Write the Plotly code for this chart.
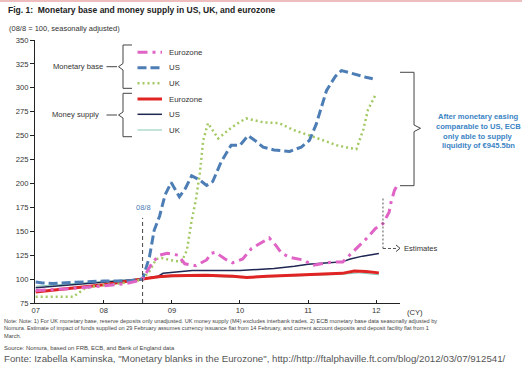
import plotly.graph_objects as go

# ---------------- data (decimal years, index 08/8 = 100) ----------------
us_base_x = [2007.00, 2007.10, 2007.25, 2007.40, 2007.60, 2007.80, 2008.00, 2008.20, 2008.40, 2008.57,
             2008.67, 2008.74, 2008.82, 2008.90, 2008.99, 2009.11, 2009.20, 2009.29, 2009.40, 2009.51,
             2009.60, 2009.72, 2009.87, 2010.00, 2010.12, 2010.22, 2010.34, 2010.50, 2010.73, 2010.90,
             2011.02, 2011.12, 2011.27, 2011.40, 2011.49, 2011.60, 2011.73, 2011.85, 2011.95]
us_base_y = [97, 96, 95.5, 96, 97, 97.5, 98, 98, 98.5, 100,
             123, 151, 166, 188, 201, 186, 195, 208, 204, 198,
             202, 222, 240, 240, 250, 245, 238, 235, 233.5, 238,
             245, 262, 297, 312, 318, 316, 313, 311, 309.5]

uk_base_x = [2007.00, 2007.30, 2007.55, 2007.62, 2007.72, 2007.90, 2008.20, 2008.45, 2008.57, 2008.67,
             2008.77, 2008.85, 2008.97, 2009.14, 2009.22, 2009.29, 2009.35, 2009.41, 2009.46, 2009.53,
             2009.68, 2009.85, 2009.97, 2010.09, 2010.34, 2010.58, 2010.78, 2011.07, 2011.42, 2011.61,
             2011.71, 2011.81, 2011.88, 2012.00]
uk_base_y = [81.5, 81.5, 81.5, 85, 90, 93, 95, 97.5, 100, 108,
             121, 122, 120, 118, 130, 161, 182, 210, 245, 263,
             247, 257, 263, 268, 264, 263, 256, 249, 240, 237,
             236, 256, 277, 294]

ez_base_x = [2007.00, 2007.50, 2008.00, 2008.30, 2008.50, 2008.57, 2008.72, 2008.82, 2008.93, 2009.09,
             2009.19, 2009.35, 2009.51, 2009.58, 2009.64, 2009.78, 2009.89, 2010.04, 2010.17, 2010.29,
             2010.43, 2010.53, 2010.61, 2010.75, 2010.93, 2011.07, 2011.22, 2011.37, 2011.51, 2011.65,
             2011.78, 2011.88, 2011.99, 2012.10, 2012.19, 2012.22, 2012.27, 2012.31]
ez_base_y = [88, 90, 93, 95, 98, 100, 118, 125, 127, 125,
             116, 114, 120, 127, 128, 121, 117, 121, 132, 137,
             143, 135, 127, 122.5, 120, 114.5, 116, 118, 118, 128,
             137, 144, 153, 158, 170, 181, 193, 198]

ez_m_x = [2007.00, 2007.50, 2008.00, 2008.57, 2008.80, 2009.00, 2009.50, 2009.90, 2010.10, 2010.40,
          2010.80, 2011.20, 2011.50, 2011.68, 2011.85, 2012.04]
ez_m_y = [86.5, 90, 94, 100, 102.5, 103.5, 104, 103, 101.6, 103,
          104, 105, 106, 108.5, 108, 106.5]

us_m_x = [2007.00, 2007.50, 2008.00, 2008.57, 2008.70, 2008.80, 2008.87, 2009.00, 2009.30, 2010.00,
          2010.20, 2010.50, 2010.80, 2011.00, 2011.30, 2011.50, 2011.62, 2011.80, 2012.04]
us_m_y = [91, 94, 96.5, 100, 102, 103, 106, 107, 109, 109,
          109.5, 111, 113.5, 115.5, 117, 118, 121, 124, 126.7]

uk_m_x = [2007.00, 2007.50, 2008.00, 2008.57, 2009.00, 2009.50, 2010.00, 2010.50, 2011.00, 2011.50,
          2011.75, 2012.04]
uk_m_y = [92.5, 95, 97, 100, 102.5, 103, 101.5, 102.5, 103.5, 105,
          106.5, 104.5]

year_ticks = [2007, 2008, 2009, 2010, 2011, 2012]
year_labels = ["07", "08", "09", "10", "11", "12"]
y_ticks = [75, 100, 125, 150, 175, 200, 225, 250, 275, 300, 325, 350]
base_date = 2008.57
estimate_date = 2012.10

legend_names = ["Eurozone", "US", "UK", "Eurozone", "US", "UK"]

# ---------------- styles ----------------
FONT = "Liberation Sans, Arial, sans-serif"
C_PINK = "#e064c6"
C_BLUE = "#4d7db5"
C_GREEN = "#a3c964"
C_RED = "#e02424"
C_NAVY = "#1e2652"
C_TEAL = "#86c9b3"
D_PINK = "10px,5px,3px,5px"
D_BLUE = "9px,4px"
D_GREEN = "2px,3px"

styles = [
    dict(color=C_PINK, width=3, dash=D_PINK),
    dict(color=C_BLUE, width=3, dash=D_BLUE),
    dict(color=C_GREEN, width=2.5, dash=D_GREEN),
    dict(color=C_RED, width=3, dash="solid"),
    dict(color=C_NAVY, width=1.5, dash="solid"),
    dict(color=C_TEAL, width=1, dash="solid"),
]

fig = go.Figure()
series = [
    (uk_m_x, uk_m_y, styles[5]),
    (us_m_x, us_m_y, styles[4]),
    (ez_m_x, ez_m_y, styles[3]),
    (uk_base_x, uk_base_y, styles[2]),
    (us_base_x, us_base_y, styles[1]),
    (ez_base_x, ez_base_y, styles[0]),
]
for xs, ys, st in series:
    fig.add_trace(go.Scatter(x=xs, y=ys, mode="lines", line=st,
                             showlegend=False, hoverinfo="skip"))

# plot-area geometry in pixels
L, T, W, H = 35, 40, 365, 263


def px(x):
    return (x - L) / W


def py(y):
    return (T + H - y) / H


annotations = []


def ann(x, y, text, size=7.5, color="#333333", xanchor="left", bold=False):
    if bold:
        text = "<b>" + text + "</b>"
    annotations.append(dict(x=px(x), y=py(y), xref="paper", yref="paper", text=text,
                            showarrow=False, xanchor=xanchor, yanchor="middle",
                            font=dict(family=FONT, size=size, color=color)))


shapes = []


def path_shape(points, color="#444444", width=1, dash="solid"):
    d = "M " + " L ".join("%.4f,%.4f" % (px(a), py(b)) for a, b in points)
    shapes.append(dict(type="path", path=d, xref="paper", yref="paper",
                       line=dict(color=color, width=width, dash=dash)))


# title / subtitle
ann(6, 9.5, "Fig. 1:  Monetary base and money supply in US, UK, and eurozone", size=8.5, color="#222222", bold=True)
ann(7, 28, "(08/8 = 100, seasonally adjusted)", size=7.5, color="#333333")
shapes.append(dict(type="line", xref="paper", yref="paper", x0=px(0), x1=px(522), y0=py(1), y1=py(1),
                   line=dict(color="#e8a8a8", width=1.5)))

# legend
leg_y = [52.3, 67.7, 83.3, 99, 114.3, 130]
for name, st, yy in zip(legend_names, styles, leg_y):
    shapes.append(dict(type="line", xref="paper", yref="paper", x0=px(137.5), x1=px(162),
                       y0=py(yy), y1=py(yy),
                       line=dict(color=st["color"], width=st["width"], dash=st["dash"])))
    ann(167, yy, name, size=7.8)

# group brackets
path_shape([(132, 45), (123, 45), (123, 63.5), (118.5, 66.7), (123, 70), (123, 88.3), (132, 88.3)])
path_shape([(132, 93.3), (123, 93.3), (123, 112), (118.5, 115), (123, 118), (123, 136.7), (132, 136.7)])
path_shape([(106.5, 66.7), (117, 66.7)])
path_shape([(106.5, 115), (117, 115)])
ann(105, 66.7, "Monetary base", size=7.6, xanchor="right")
ann(101, 114.5, "Money supply", size=7.6, xanchor="right")

# right bracket and ECB comment
path_shape([(400, 72.3), (414, 72.3), (414, 125), (420.5, 128.3), (414, 131.6), (414, 185.7), (400, 185.7)])
for txt, yy in zip(["After monetary easing", "comparable to US, ECB", "only able to supply",
                    "liquidity of €945.5bn"], [116.7, 126.5, 136.2, 145.8]):
    ann(478, yy, txt, size=7.6, color="#3b84c4", xanchor="center", bold=True)

# 08/8 marker
shapes.append(dict(type="line", xref="x", yref="y", x0=base_date, x1=base_date, y0=75, y1=164,
                   line=dict(color="#444444", width=1, dash="4px,3px")))
ann(143, 207.5, "08/8", size=7.5, color="#4d7db5", xanchor="center")

# estimates marker
shapes.append(dict(type="line", xref="x", yref="y", x0=estimate_date, x1=estimate_date, y0=132, y1=185,
                   line=dict(color="#555555", width=1, dash="2px,2px")))
shapes.append(dict(type="line", xref="x", yref="y", x0=estimate_date, x1=2012.32, y0=132, y1=132,
                   line=dict(color="#555555", width=1, dash="3px,2px")))
path_shape([(396, 245), (400, 248.3), (396, 251.6)], color="#444444")
ann(402, 248.3, "Estimates", size=7.6)

# (CY)
ann(415, 312, "(CY)", size=7.6, xanchor="center")

# notes
ann(2, 321, "Note: Note: 1) For UK monetary base, reserve deposits only unadjusted. UK money supply (M4) excludes "
            "interbank trades. 2) ECB monetary base data seasonally adjusted by", size=5.6, color="#444444")
ann(2, 328.5, "Nomura. Estimate of impact of funds supplied on 29 February assumes currency issuance flat from "
              "14 February, and current account deposits and deposit facility flat from 1", size=5.6, color="#444444")
ann(2, 336, "March.", size=5.6, color="#444444")
ann(2, 347.5, "Source: Nomura, based on FRB, ECB, and Bank of England data", size=5.9, color="#444444")
ann(2, 358.5, "Fonte: Izabella Kaminska, \"Monetary blanks in the Eurozone\", "
              "http://http://ftalphaville.ft.com/blog/2012/03/07/912541/", size=9.7, color="#555555")

fig.update_layout(
    width=522, height=365,
    margin=dict(l=L, r=522 - L - W, t=T, b=365 - T - H, pad=0),
    paper_bgcolor="white", plot_bgcolor="white",
    font=dict(family=FONT, size=7.5, color="#333333"),
    xaxis=dict(range=[2006.99, 2012.35], tickvals=year_ticks, ticktext=year_labels,
               showline=True, linecolor="#222222", linewidth=1, ticks="inside", ticklen=3,
               tickcolor="#222222", showgrid=False, zeroline=False,
               tickfont=dict(family=FONT, size=7.6, color="#333333")),
    yaxis=dict(range=[75, 350], tickvals=y_ticks, showline=True, linecolor="#222222", linewidth=1,
               ticks="outside", ticklen=4, tickcolor="#222222", showgrid=False, zeroline=False,
               tickfont=dict(family=FONT, size=7.6, color="#333333")),
    shapes=shapes, annotations=annotations,
)

fig.write_html("out.html")
